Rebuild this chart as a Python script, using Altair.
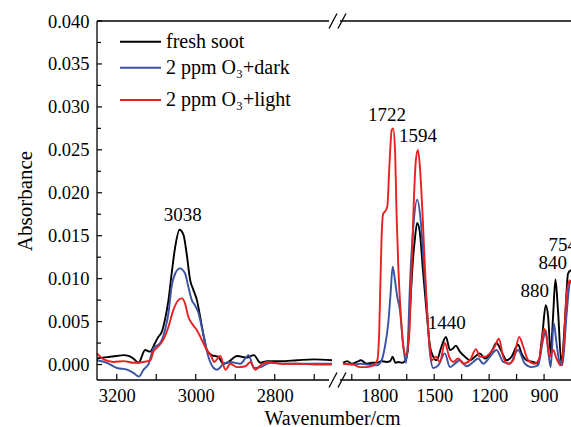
import altair as alt
import pandas as pd

# ---------------- data ----------------
series_names = ["fresh soot", "2 ppm O₃+dark", "2 ppm O₃+light"]
series_colors = ["#000000", "#3a52a4", "#e8201f"]

# left panel (3250 - 2655 cm-1)
lb_wn = [3250, 3235, 3217, 3200, 3183, 3170, 3158, 3145, 3128, 3116, 3103, 3095, 3086, 3078, 3069, 3061,
         3052, 3041, 3031, 3023, 3014, 3006, 2997, 2989, 2981, 2972, 2960, 2943, 2930, 2921, 2895, 2870,
         2853, 2836, 2819, 2786, 2744, 2701, 2655]
lb_ab = [0.0007, 0.0008, 0.0009, 0.0010, 0.0011, 0.0010, 0.0007, 0.0002, 0.0017, 0.0015, 0.0025, 0.0032,
         0.0038, 0.0052, 0.0075, 0.0106, 0.0137, 0.0157, 0.0151, 0.0129, 0.0098, 0.0087, 0.0075, 0.0056,
         0.0036, 0.0017, 0.0011, 0.0009, 0.0001, 0.0002, 0.0010, 0.0008, 0.0011, 0.0002, 0.0004, 0.0004,
         0.0005, 0.0006, 0.0005]

lu_wn = [3250, 3225, 3199, 3174, 3157, 3144, 3132, 3119, 3107, 3090, 3078, 3069, 3061, 3052, 3040, 3027,
         3019, 3010, 3002, 2993, 2985, 2976, 2968, 2958, 2946, 2929, 2912, 2887, 2866, 2853, 2836, 2811,
         2780, 2740, 2700, 2655]
lu_ab = [0.0005, 0.0002, -0.0004, -0.0006, -0.0010, -0.0014, -0.0006, 0.0001, 0.0019, 0.0025, 0.0040,
         0.0060, 0.0091, 0.0106, 0.0112, 0.0106, 0.0091, 0.0075, 0.0069, 0.0060, 0.0044, 0.0025, 0.0009,
         -0.0002, -0.0006, 0.0001, 0.0003, 0.0001, 0.0011, -0.0004, -0.0003, 0.0002, 0.0001, 0.0001,
         0.0001, 0.0001]

lr_wn = [3250, 3233, 3208, 3182, 3157, 3132, 3115, 3107, 3095, 3082, 3069, 3057, 3044, 3035, 3027, 3019,
         3010, 2997, 2985, 2972, 2960, 2954, 2938, 2925, 2912, 2895, 2874, 2862, 2849, 2836, 2819, 2780,
         2740, 2700, 2655]
lr_ab = [0.0013, 0.0006, 0.0003, 0.0004, 0.0002, 0.0003, 0.0005, 0.0015, 0.0021, 0.0029, 0.0044, 0.0063,
         0.0075, 0.0077, 0.0071, 0.0056, 0.0048, 0.0040, 0.0029, 0.0017, 0.0009, 0.0003, 0.0010, -0.0006,
         0.0001, -0.0003, -0.0002, 0.0003, -0.0006, -0.0001, 0.0003, 0.0001, 0.0001, 0.0000, 0.0000]

# right panel (1998 - 753 cm-1)
rb_wn = [1998, 1975, 1950, 1923, 1900, 1869, 1840, 1814, 1790, 1760, 1740, 1727, 1712, 1696, 1675, 1660,
         1645, 1633, 1620, 1606, 1593, 1578, 1560, 1541, 1523, 1505, 1487, 1460, 1436, 1414, 1396, 1382,
         1360, 1332, 1305, 1278, 1251, 1223, 1187, 1160, 1132, 1105, 1078, 1042, 1023, 996, 960, 933, 909,
         891, 878, 864, 851, 838, 824, 805, 787, 769, 753]
rb_ab = [0.0002, 0.0004, 0.0001, 0.0003, 0.0005, 0.0001, 0.0002, 0.0002, 0.0004, 0.0003, 0.0004, 0.0009,
         0.0002, 0.0003, 0.0002, 0.0004, 0.0015, 0.0060, 0.0110, 0.0145, 0.0165, 0.0153, 0.0106, 0.0060,
         0.0021, 0.0009, 0.0005, 0.0021, 0.0032, 0.0017, 0.0019, 0.0022, 0.0015, 0.0009, 0.0005, 0.0009,
         0.0013, 0.0007, 0.0015, 0.0025, 0.0015, 0.0005, 0.0009, 0.0023, 0.0013, 0.0005, 0.0003, 0.0001,
         0.0036, 0.0069, 0.0056, 0.0013, 0.0056, 0.0099, 0.0063, 0.0001, 0.0048, 0.0106, 0.0110]

ru_wn = [1998, 1950, 1900, 1869, 1814, 1787, 1769, 1751, 1738, 1727, 1714, 1702, 1687, 1675, 1664, 1654,
         1643, 1633, 1614, 1593, 1574, 1556, 1538, 1523, 1505, 1478, 1442, 1414, 1387, 1360, 1323, 1287,
         1260, 1232, 1196, 1160, 1123, 1087, 1042, 1005, 969, 933, 909, 891, 876, 864, 847, 832, 818, 800,
         778, 760, 753]
ru_ab = [0.0001, 0.0000, 0.0001, 0.0000, -0.0001, 0.0005, 0.0021, 0.0048, 0.0083, 0.0114, 0.0098, 0.0079,
         0.0063, 0.0036, 0.0013, 0.0002, 0.0030, 0.0090, 0.0160, 0.0192, 0.0168, 0.0114, 0.0060, 0.0013,
         -0.0004, -0.0001, 0.0013, -0.0003, 0.0001, 0.0005, -0.0002, 0.0003, 0.0007, 0.0001, 0.0009,
         0.0017, 0.0003, 0.0001, 0.0017, 0.0001, -0.0003, -0.0001, 0.0025, 0.0040, 0.0013, -0.0003, 0.0048,
         0.0025, 0.0005, -0.0001, 0.0056, 0.0095, 0.0098]

rr_wn = [1998, 1942, 1905, 1869, 1833, 1811, 1800, 1796, 1787, 1778, 1769, 1756, 1745, 1732, 1724, 1714,
         1705, 1696, 1683, 1669, 1654, 1636, 1623, 1611, 1600, 1589, 1578, 1563, 1551, 1538, 1523, 1514,
         1491, 1469, 1442, 1418, 1396, 1369, 1342, 1305, 1272, 1251, 1223, 1196, 1169, 1147, 1123, 1096,
         1069, 1036, 1014, 987, 951, 923, 901, 887, 869, 851, 832, 810, 792, 778, 760, 753]
rr_ab = [0.0001, 0.0000, -0.0003, -0.0003, -0.0001, 0.0005, 0.0040, 0.0075, 0.0150, 0.0176, 0.0178,
         0.0184, 0.0230, 0.0273, 0.0275, 0.0250, 0.0172, 0.0114, 0.0060, 0.0021, 0.0011, 0.0036, 0.0114,
         0.0192, 0.0238, 0.0250, 0.0230, 0.0172, 0.0114, 0.0060, 0.0017, 0.0005, 0.0009, 0.0003, 0.0025,
         0.0009, 0.0003, 0.0007, 0.0001, 0.0005, 0.0018, 0.0009, 0.0009, 0.0013, 0.0021, 0.0030, 0.0009,
         0.0001, 0.0005, 0.0032, 0.0021, 0.0005, 0.0001, 0.0009, 0.0042, 0.0032, 0.0009, 0.0017, 0.0007,
         -0.0001, 0.0025, 0.0079, 0.0098, 0.0095]

# peak annotations
ann_left_text = ["3038"]
ann_left_x = [3033]
ann_left_y = [0.0174]
ann_right_text = ["1722", "1594", "1440", "880", "840", "754"]
ann_right_x = [1758, 1589, 1432, 951, 852, 798]
ann_right_y = [0.0290, 0.0266, 0.0048, 0.0086, 0.0118, 0.0139]

# axis ticks
y_label_vals = [0.000, 0.005, 0.010, 0.015, 0.020, 0.025, 0.030, 0.035, 0.040]
y_minor_vals = [0.0025, 0.0075, 0.0125, 0.0175, 0.0225, 0.0275, 0.0325, 0.0375]
xl_label_vals = [3200, 3000, 2800]
xl_tick_vals = [3200, 3100, 3000, 2900, 2800, 2700]
xr_label_vals = [1800, 1500, 1200, 900]
xr_tick_vals = [1950, 1800, 1650, 1500, 1350, 1200, 1050, 900]


def series_frame(wn, ab, name):
    return pd.DataFrame({"wn": wn, "ab": ab, "series": name})


left_df = pd.concat([series_frame(lb_wn, lb_ab, series_names[0]),
                     series_frame(lu_wn, lu_ab, series_names[1]),
                     series_frame(lr_wn, lr_ab, series_names[2])], ignore_index=True)
right_df = pd.concat([series_frame(rb_wn, rb_ab, series_names[0]),
                      series_frame(ru_wn, ru_ab, series_names[1]),
                      series_frame(rr_wn, rr_ab, series_names[2])], ignore_index=True)

# ---------------- layout / style ----------------
W, H = 474, 359
FONT = "Liberation Serif, Times New Roman, DejaVu Serif, serif"
LW = 1.9
FW = 1.3
BREAK_L, BREAK_R = 235, 246


def y_scale():
    return alt.Scale(domain=[-0.0018, 0.040], nice=False, zero=False)


def xl_scale():
    return alt.Scale(domain=[3250, 2655], range=[0, BREAK_L], nice=False, zero=False)


def xr_scale():
    return alt.Scale(domain=[1998, 753], range=[BREAK_R, W], nice=False, zero=False)


color = alt.Color("series:N", scale=alt.Scale(domain=series_names, range=series_colors), legend=None)


def x_axis(values, title=None):
    kw = dict(values=values, orient="bottom", ticks=False, grid=False, domain=False,
              labelFont=FONT, labelFontSize=18.5, labelColor="black", labelPadding=6,
              labelFlush=False, format="d")
    if title:
        kw.update(title=title, titleFont=FONT, titleFontSize=20, titleFontWeight="normal",
                  titleColor="black", titleX=235, titleY=44, titleAlign="center",
                  titleBaseline="alphabetic")
    else:
        kw.update(title="")
    return alt.Axis(**kw)


def y_axis():
    return alt.Axis(values=y_label_vals, format=".3f", ticks=False, grid=False, domain=False,
                    labelFont=FONT, labelFontSize=18.5, labelColor="black", labelPadding=8,
                    title="Absorbance", titleFont=FONT, titleFontSize=21, titleFontWeight="normal",
                    titleColor="black", titlePadding=12)


one = pd.DataFrame({"a": [0]})

# ---------- left panel ----------
left_lines = alt.Chart(left_df).mark_line(strokeWidth=LW, interpolate="monotone", clip=True).encode(
    x=alt.X("wn:Q", scale=xl_scale(), axis=x_axis(xl_label_vals, "Wavenumber/cm")),
    y=alt.Y("ab:Q", scale=y_scale(), axis=y_axis()),
    color=color,
    detail="series:N",
)
y_major = alt.Chart(pd.DataFrame({"ab": y_label_vals})).mark_rule(color="black", strokeWidth=1.2).encode(
    y=alt.Y("ab:Q", scale=y_scale(), axis=y_axis()), x=alt.value(0), x2=alt.value(5))
y_minor = alt.Chart(pd.DataFrame({"ab": y_minor_vals})).mark_rule(color="black", strokeWidth=1.2).encode(
    y=alt.Y("ab:Q", scale=y_scale(), axis=y_axis()), x=alt.value(0), x2=alt.value(4))
xl_ticks = alt.Chart(pd.DataFrame({"v": xl_tick_vals})).mark_rule(color="black", strokeWidth=1.2).encode(
    x=alt.X("v:Q", scale=xl_scale(), axis=None), y=alt.value(H), y2=alt.value(H - 6))
ann_left = alt.Chart(pd.DataFrame({"t": ann_left_text, "x": ann_left_x, "ab": ann_left_y})).mark_text(
    font=FONT, fontSize=19, color="black", baseline="middle", align="center").encode(
    x=alt.X("x:Q", scale=xl_scale(), axis=None), y=alt.Y("ab:Q", scale=y_scale(), axis=y_axis()),
    text="t:N")

# ---------- right panel ----------
right_lines = alt.Chart(right_df).mark_line(strokeWidth=LW, interpolate="monotone", clip=True).encode(
    x=alt.X("wn:Q", scale=xr_scale(), axis=x_axis(xr_label_vals)),
    y=alt.Y("ab:Q", scale=y_scale(), axis=y_axis()),
    color=color,
    detail="series:N",
)
xr_ticks = alt.Chart(pd.DataFrame({"v": xr_tick_vals})).mark_rule(color="black", strokeWidth=1.2).encode(
    x=alt.X("v:Q", scale=xr_scale(), axis=None), y=alt.value(H), y2=alt.value(H - 6))
ann_right = alt.Chart(pd.DataFrame({"t": ann_right_text, "x": ann_right_x, "ab": ann_right_y})).mark_text(
    font=FONT, fontSize=19, color="black", baseline="middle", align="center").encode(
    x=alt.X("x:Q", scale=xr_scale(), axis=None), y=alt.Y("ab:Q", scale=y_scale(), axis=y_axis()),
    text="t:N")

# frame pieces, legend and break marks (decorations at fixed pixel positions)
deco = []
for yy in [0, H]:
    deco.append(alt.Chart(one).mark_rule(color="black", strokeWidth=FW).encode(
        x=alt.value(0), x2=alt.value(BREAK_L - 3), y=alt.value(yy)))
    deco.append(alt.Chart(one).mark_rule(color="black", strokeWidth=FW).encode(
        x=alt.value(BREAK_R - 3), x2=alt.value(W + 5), y=alt.value(yy)))
deco.append(alt.Chart(one).mark_rule(color="black", strokeWidth=FW).encode(
    x=alt.value(0), y=alt.value(0), y2=alt.value(H)))
leg_y = [20.7, 46.7, 79]
for name, col, yy in zip(series_names, series_colors, leg_y):
    deco.append(alt.Chart(one).mark_rule(color=col, strokeWidth=LW).encode(
        x=alt.value(23), x2=alt.value(64), y=alt.value(yy)))
    deco.append(alt.Chart(one).mark_text(
        font=FONT, fontSize=20, color="black", align="left", baseline="middle", text=name).encode(
        x=alt.value(69), y=alt.value(yy)))
for y0 in [0, H]:
    for dx in [0, 9]:
        deco.append(alt.Chart(one).mark_rule(color="black", strokeWidth=FW).encode(
            x=alt.value(BREAK_L - 3 + dx), x2=alt.value(BREAK_L + 5 + dx),
            y=alt.value(y0 + 7.5), y2=alt.value(y0 - 7.5)))

chart = alt.layer(
    left_lines, right_lines, y_major, y_minor, xl_ticks, xr_ticks, ann_left, ann_right, *deco
).resolve_scale(x="independent").resolve_axis(x="independent").properties(
    width=W, height=H, autosize="none",
    padding={"left": 97, "top": 21, "right": 0, "bottom": 47},
    background="white",
).configure_view(strokeWidth=0)

chart.save("out.html", embed_options={"renderer": "svg", "actions": False})
